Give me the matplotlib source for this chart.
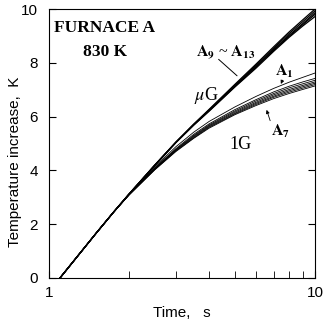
import matplotlib
matplotlib.use("Agg")
import matplotlib.pyplot as plt
from matplotlib.ticker import FixedLocator, NullFormatter

plt.rcParams['mathtext.fontset'] = 'stix'

# time points (s)
time = [1.1, 1.25, 1.5, 1.75, 2.0, 2.5, 3.0, 3.5, 4.0, 5.0, 6.0, 7.0, 8.0, 9.0, 10.0]

# microgravity runs A9 - A13 (K)
A13 = [0, 0.68, 1.65, 2.45, 3.12, 4.20, 5.05, 5.72, 6.27, 7.20, 7.95, 8.60, 9.15, 9.60, 10.00]
A12 = [0, 0.68, 1.65, 2.45, 3.12, 4.20, 5.05, 5.71, 6.25, 7.17, 7.91, 8.55, 9.09, 9.53, 9.93]
A11 = [0, 0.68, 1.65, 2.45, 3.12, 4.19, 5.04, 5.70, 6.23, 7.14, 7.87, 8.50, 9.03, 9.46, 9.86]
A10 = [0, 0.68, 1.65, 2.45, 3.12, 4.19, 5.04, 5.69, 6.22, 7.12, 7.84, 8.47, 8.99, 9.42, 9.80]
A9 = [0, 0.68, 1.65, 2.45, 3.11, 4.18, 5.03, 5.68, 6.20, 7.10, 7.80, 8.43, 8.95, 9.37, 9.72]

# 1G runs A1 - A7 (K)
A1 = [0, 0.68, 1.65, 2.45, 3.12, 4.14, 4.88, 5.42, 5.82, 6.36, 6.75, 7.05, 7.28, 7.46, 7.62]
A2 = [0, 0.68, 1.65, 2.45, 3.11, 4.10, 4.81, 5.34, 5.73, 6.26, 6.63, 6.92, 7.13, 7.29, 7.42]
A3 = [0, 0.68, 1.65, 2.45, 3.10, 4.08, 4.78, 5.30, 5.69, 6.21, 6.58, 6.86, 7.07, 7.22, 7.35]
A4 = [0, 0.68, 1.65, 2.45, 3.10, 4.06, 4.76, 5.27, 5.66, 6.17, 6.53, 6.81, 7.01, 7.16, 7.29]
A5 = [0, 0.68, 1.65, 2.45, 3.09, 4.05, 4.74, 5.24, 5.63, 6.13, 6.49, 6.76, 6.96, 7.11, 7.24]
A6 = [0, 0.68, 1.65, 2.45, 3.09, 4.03, 4.72, 5.21, 5.60, 6.10, 6.45, 6.72, 6.91, 7.06, 7.19]
A7 = [0, 0.68, 1.65, 2.45, 3.08, 4.02, 4.70, 5.19, 5.57, 6.07, 6.41, 6.67, 6.86, 7.01, 7.14]

mu_g_runs = [A9, A10, A11, A12, A13]
one_g_runs = [A1, A2, A3, A4, A5, A6, A7]

fig = plt.figure(figsize=(3.27, 3.25), dpi=100)
ax = fig.add_axes([0.150, 0.145, 0.813, 0.827])

for run in mu_g_runs:
    ax.plot(time, run, color='black', lw=0.9)
for run in one_g_runs:
    ax.plot(time, run, color='black', lw=0.6)

ax.set_xscale('log')
ax.set_xlim(1, 10)
ax.set_ylim(0, 10)
ax.xaxis.set_major_locator(FixedLocator([1, 10]))
ax.xaxis.set_minor_locator(FixedLocator([2, 3, 4, 5, 6, 7, 8, 9]))
ax.xaxis.set_minor_formatter(NullFormatter())
ax.set_xticklabels(['1', '10'])
ax.set_yticks([0, 2, 4, 6, 8, 10])
ax.tick_params(axis='both', which='both', direction='in', labelsize=11)
ax.tick_params(axis='y', which='both', right=True, pad=8)
ax.tick_params(axis='x', which='both', pad=6)
ax.tick_params(which='major', length=5)
ax.tick_params(which='minor', length=5)
for lab in ax.get_xticklabels() + ax.get_yticklabels():
    lab.set_fontfamily('Liberation Sans')
for s in ax.spines.values():
    s.set_linewidth(0.8)

ax.set_xlabel('Time,   s', fontsize=11, family='Liberation Sans', labelpad=4)
ax.set_ylabel('Temperature increase,  K', fontsize=11, family='Liberation Sans')
ax.yaxis.set_label_coords(-0.10, 0.43)

serif = 'Liberation Serif'
ax.text(0.018, 0.96, 'FURNACE A', transform=ax.transAxes, fontsize=12.5,
        fontweight='bold', family=serif, va='top', ha='left')
ax.text(0.128, 0.87, '830 K', transform=ax.transAxes, fontsize=12.5,
        fontweight='bold', family=serif, va='top', ha='left')
ax.text(0.552, 0.84, r'$\mathbf{A_{9}}$ ~ $\mathbf{A_{13}}$', transform=ax.transAxes,
        fontsize=11.5, family=serif, va='center', ha='left')
ax.annotate('', xy=(0.715, 0.745), xytext=(0.63, 0.82), xycoords='axes fraction',
            arrowprops=dict(arrowstyle='-', lw=0.7, color='black'))
ax.text(0.545, 0.68, r'$\mu$G', transform=ax.transAxes, fontsize=13,
        family=serif, va='center', ha='left')
ax.text(0.68, 0.495, '1G', transform=ax.transAxes, fontsize=13,
        family=serif, va='center', ha='left')
ax.text(0.85, 0.77, r'$\mathbf{A_{1}}$', transform=ax.transAxes, fontsize=11.5,
        va='center', ha='left')
ax.annotate('', xy=(0.868, 0.712), xytext=(0.882, 0.745), xycoords='axes fraction',
            arrowprops=dict(arrowstyle='-|>', lw=0.6, color='black', mutation_scale=5))
ax.text(0.835, 0.545, r'$\mathbf{A_{7}}$', transform=ax.transAxes, fontsize=11.5,
        va='center', ha='left')
ax.annotate('', xy=(0.815, 0.635), xytext=(0.835, 0.575), xycoords='axes fraction',
            arrowprops=dict(arrowstyle='-|>', lw=0.6, color='black', mutation_scale=5))

fig.savefig('out.png', dpi=100)
